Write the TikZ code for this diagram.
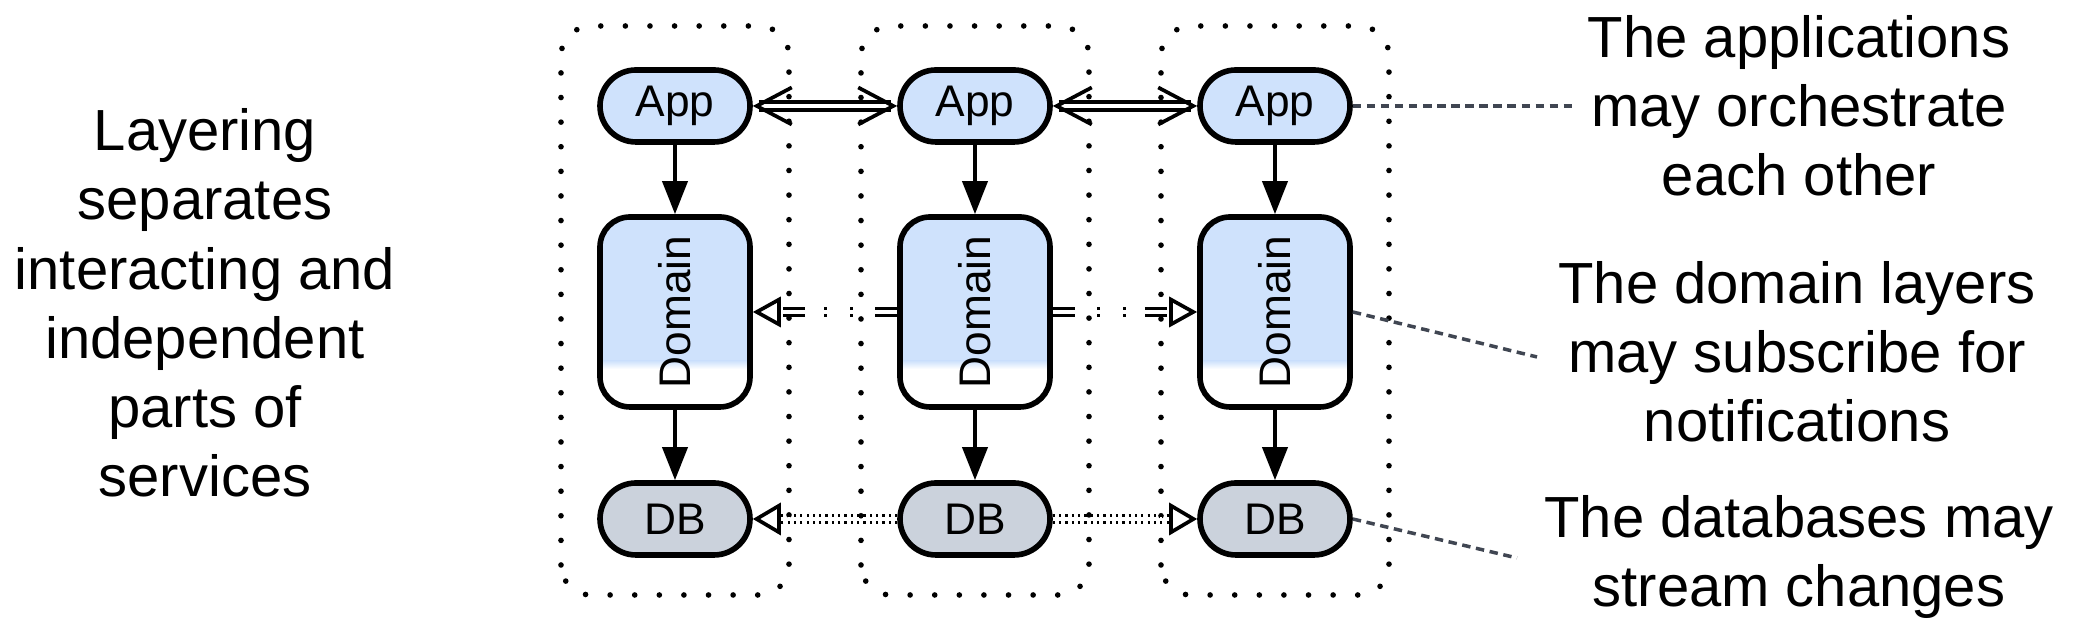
\documentclass[tikz,border=0pt]{standalone}
\usepackage{fontspec}
\setmainfont{Liberation Sans}
\usetikzlibrary{arrows.meta}

\definecolor{appblue}{RGB}{207,226,252}
\definecolor{dbgray}{RGB}{203,210,220}
\definecolor{notegray}{RGB}{64,70,82}

\begin{document}
\begin{tikzpicture}[
    box/.style={draw=black, line width=1.6pt, minimum width=1.5cm, font=\fontsize{12.6}{15}\selectfont},
    appbox/.style={box, fill=appblue, minimum height=0.72cm, rounded corners=0.36cm},
    dbbox/.style={box, fill=dbgray, minimum height=0.72cm, rounded corners=0.36cm},
    layerbox/.style={box, fill=appblue, minimum height=1.9cm, rounded corners=0.3cm,
        path picture={
            \fill[white, sharp corners] (path picture bounding box.south west) rectangle ([yshift=0.38cm]path picture bounding box.south east);
            \shade[top color=appblue, bottom color=white, sharp corners] ([yshift=0.38cm]path picture bounding box.south west) rectangle ([yshift=0.46cm]path picture bounding box.south east);
        }},
    colbox/.style={line width=1.6pt, line cap=round, dash pattern=on 0pt off 7pt, rounded corners=0.3cm},
    down/.style={line width=1.1pt, -{Triangle[length=0.33cm, width=0.25cm]}},
    orch/.style={double, line width=1.05pt, double distance=1.2pt,
        {Straight Barb[length=0.35cm, width=0.37cm, line width=1.05pt]}-{Straight Barb[length=0.35cm, width=0.37cm, line width=1.05pt]}},
    notify/.style={double, line width=1pt, double distance=0.9pt,
        dash pattern=on 6.3pt off 6.3pt on 0.7pt off 6.8pt on 0.7pt off 5.4pt,
        -{Triangle[open, length=0.28cm, width=0.3cm, line width=1.05pt]}},
    stream/.style={double, line width=0.9pt, double distance=1pt,
        dash pattern=on 0.6pt off 1.2pt,
        -{Triangle[open, length=0.28cm, width=0.32cm, line width=1.05pt]}},
    caption/.style={align=center, font=\fontsize{16.5}{19.7}\selectfont},
    notelink/.style={draw=notegray, line width=1pt, dash pattern=on 2.4pt off 1.6pt}
]
    \useasboundingbox (0,0) rectangle (20.74,6.39);

    % Left caption
    \node[caption] (intro) at (2.05,3.36) {Layering\\separates\\interacting and\\independent\\parts of\\services};

    % Service columns
    \foreach \i/\x in {1/6.75, 2/9.75, 3/12.75} {
        \draw[colbox] (\x-1.14,0.44) rectangle (\x+1.14,6.13);
        \node[appbox] (app\i) at (\x,5.33) {App};
        \node[layerbox] (dom\i) at (\x,3.27) {\rotatebox{90}{Domain}};
        \node[dbbox] (db\i) at (\x,1.2) {DB};
        \draw[down] (app\i) -- (dom\i);
        \draw[down] (dom\i) -- (db\i);
    }

    % Links between the columns
    \draw[orch] (app1) -- (app2);
    \draw[orch] (app2) -- (app3);
    \draw[notify] (dom2) -- (dom1);
    \draw[notify] (dom2) -- (dom3);
    \draw[stream] (db2) -- (db1);
    \draw[stream] (db2) -- (db3);

    % Notes on the right
    \node[caption] (noteapp) at (17.99,5.33) {The applications\\may orchestrate\\each other};
    \node[caption] (notedom) at (17.97,2.87) {The domain layers\\may subscribe for\\notifications};
    \node[caption] (notedb) at (17.99,0.82) {The databases may\\stream changes};

    \coordinate (endapp) at (15.72,5.33);
    \coordinate (enddom) at (15.37,2.82);
    \coordinate (enddb) at (15.17,0.81);
    \draw[notelink] (app3.east) -- (endapp);
    \draw[notelink] (dom3.east) -- (enddom);
    \draw[notelink] (db3.east) -- (enddb);

\end{tikzpicture}
\end{document}
